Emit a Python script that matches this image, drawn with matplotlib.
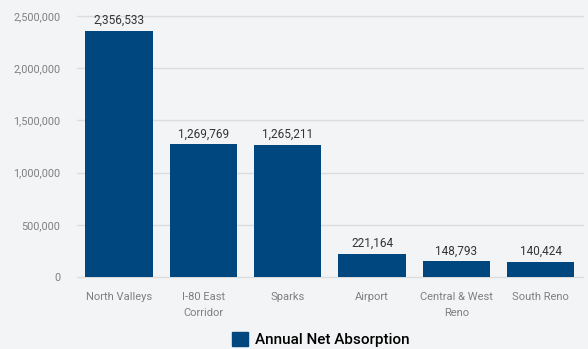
import matplotlib.pyplot as plt
import matplotlib.patches as mpatches
import numpy as np

categories = ["North Valleys", "I-80 East\nCorridor", "Sparks", "Airport", "Central & West\nReno", "South Reno"]
values = [2356533, 1269769, 1265211, 221164, 148793, 140424]
yticks = [0, 500000, 1000000, 1500000, 2000000, 2500000]
series_name = "Annual Net Absorption"

bar_color = "#00467f"
plt.rcParams['font.family'] = ['Roboto', 'DejaVu Sans']

fig = plt.figure(figsize=(5.88, 3.49), dpi=100)
fig.patch.set_facecolor("#f3f4f5")
ax = fig.add_axes([0.131, 0.2063, 0.86, 0.7477])
ax.set_facecolor("#f3f4f5")

x = np.arange(len(categories))
ax.bar(x, values, width=0.8, color=bar_color, zorder=3)
for xi, v in zip(x, values):
    ax.text(xi, v + 40000, f"{v:,}", ha="center", va="bottom", fontsize=8.5, color="#333333", zorder=4)

ax.set_ylim(0, 2500000)
ax.set_xlim(-0.5, len(categories) - 0.5)
ax.set_yticks(yticks)
ax.set_yticklabels([f"{t:,}" for t in yticks], fontsize=7.8, color="#7f7f7f")
ax.set_xticks(x)
ax.set_xticklabels(categories, fontsize=8, color="#7f7f7f", linespacing=1.7)
ax.tick_params(axis="x", length=0, pad=11)
ax.tick_params(axis="y", length=0, pad=12)
ax.grid(axis="y", color="#dcdcdc", linewidth=1, zorder=0)
for s in ax.spines.values():
    s.set_visible(False)
for gl in ax.get_ygridlines():
    gl.set_clip_on(False)

handle = mpatches.Patch(color=bar_color, label=series_name)
fig.legend(handles=[handle], loc="lower center", bbox_to_anchor=(0.546, -0.035), frameon=False,
           handlelength=1.0, handleheight=1.0, handletextpad=0.5,
           prop={'weight': 'medium', 'size': 11})

fig.savefig("out.png", dpi=100, facecolor=fig.get_facecolor())
